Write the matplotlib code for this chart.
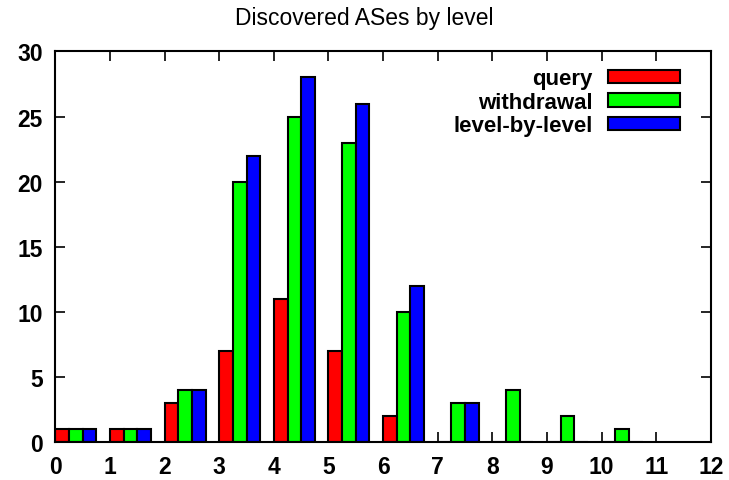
import numpy as np
import matplotlib
matplotlib.use("Agg")
import matplotlib.pyplot as plt

plt.rcParams['font.family'] = ['Liberation Sans', 'DejaVu Sans']

# data
levels = np.arange(0, 11)
query = [1, 1, 3, 7, 11, 7, 2, 0, 0, 0, 0]
withdrawal = [1, 1, 4, 20, 25, 23, 10, 3, 4, 2, 1]
level_by_level = [1, 1, 4, 22, 28, 26, 12, 3, 0, 0, 0]

series = [("query", query, "#ff0000"),
          ("withdrawal", withdrawal, "#00ff00"),
          ("level-by-level", level_by_level, "#0000ff")]

fig = plt.figure(figsize=(7.29, 4.81), dpi=100)
ax = fig.add_axes([0.076, 0.079, 0.899, 0.812])

w = 0.25
for k, (name, vals, col) in enumerate(series):
    ax.bar(levels + k * w, vals, width=w, align='edge', color=col,
           edgecolor='black', linewidth=1.5, label=name)

ax.set_xlim(0, 12)
ax.set_ylim(0, 30)
ax.set_xticks(range(0, 13))
ax.set_yticks(range(0, 31, 5))
ax.tick_params(direction='in', top=True, right=True, length=7, width=1.2,
               labelsize=16.5, pad=9)
for lab in ax.get_xticklabels() + ax.get_yticklabels():
    lab.set_fontweight('bold')
for s in ax.spines.values():
    s.set_linewidth(1.5)

# title is centred on the page, not the plot box
fig.suptitle("Discovered ASes by level", x=0.5, y=0.985, fontsize=16.5)

leg = ax.legend(loc='upper right', bbox_to_anchor=(0.966, 0.98),
                frameon=False, markerfirst=False,
                handlelength=3.2, handleheight=0.55, labelspacing=0.12,
                handletextpad=0.7, borderaxespad=0.0,
                prop={'weight': 'bold', 'size': 16})

fig.savefig("out.png", dpi=100)
